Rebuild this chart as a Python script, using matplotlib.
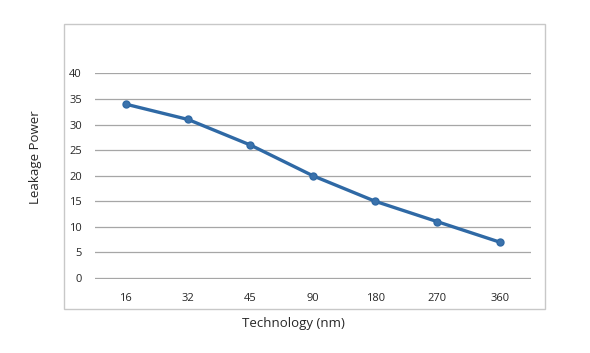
import matplotlib
matplotlib.use("Agg")
import matplotlib.pyplot as plt
from matplotlib.patches import Rectangle

categories = ["16", "32", "45", "90", "180", "270", "360"]
leakage = [34, 31, 26, 20, 15, 11, 7]
yticks = [0, 5, 10, 15, 20, 25, 30, 35, 40]

plt.rcParams['font.family'] = ['Open Sans', 'DejaVu Sans']

W, H = 590, 353
fig = plt.figure(figsize=(W/100, H/100), dpi=100)
fig.patch.set_facecolor('white')

# outer plot-area border
fig.patches.append(Rectangle((63.5/W, 1-309/H), (545-63.5)/W, (309-24)/H,
                             transform=fig.transFigure, fill=False,
                             edgecolor='#C8C8C8', linewidth=1.0))

ax = fig.add_axes([94.5/W, 1-278.7/H, (531-94.5)/W, (278.7-72.7)/H])
x = list(range(len(categories)))
ax.plot(x, leakage, color='#2F69A5', linewidth=2.4, marker='o', markersize=5,
        markerfacecolor='#3A72AC', markeredgecolor='#2F69A5', zorder=3)
ax.set_xlim(-0.5, len(categories) - 0.5)
ax.set_ylim(-0.15, 40.15)
ax.set_yticks(yticks)
ax.set_xticks(x)
ax.set_xticklabels(categories)
ax.grid(axis='y', color='#A6A6A6', linewidth=0.9)
ax.set_axisbelow(True)
for s in ax.spines.values():
    s.set_visible(False)
ax.tick_params(length=0, labelsize=8, colors='#262626')
ax.tick_params(axis='y', pad=9)
ax.tick_params(axis='x', pad=10)

fig.text(293/W, 1-324/H, "Technology (nm)", ha='center', va='center',
         fontsize=9.5, color='#262626')
fig.text(36/W, 1-157/H, "Leakage Power", ha='center', va='center',
         rotation=90, fontsize=9.5, color='#262626')

fig.savefig("out.png", dpi=100)
